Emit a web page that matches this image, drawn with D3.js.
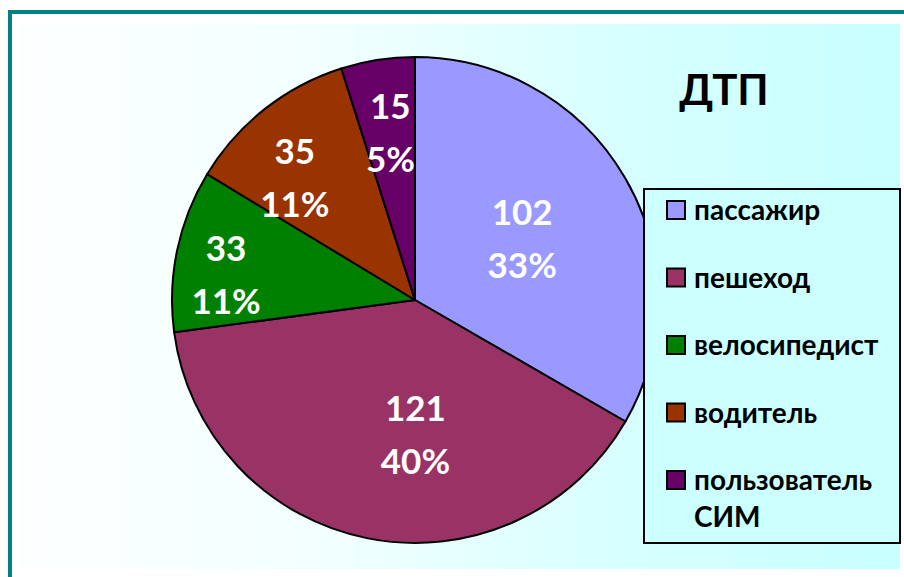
<!DOCTYPE html>
<html><head><meta charset="utf-8">
<script src="https://cdn.jsdelivr.net/npm/d3@7"></script>
<style>html,body{margin:0;padding:0;background:#fff;}svg{display:block;}</style>
</head><body>
<svg id="chart" width="904" height="577"></svg>
<script>
const title = "ДТП";
const categories = ["пассажир", "пешеход", "велосипедист", "водитель", "пользователь СИМ"];
const values = [102, 121, 33, 35, 15];
const percentLabels = ["33%", "40%", "11%", "11%", "5%"];
const colors = ["#9999ff", "#993366", "#008000", "#993300", "#660066"];

// layout (not data)
const legendLines = [["пассажир"], ["пешеход"], ["велосипедист"], ["водитель"], ["пользователь", "СИМ"]];
const labelNudge = [[2, 0], [24, 16], [-70, 0], [-45, -26], [-6, -46]];

const svg = d3.select("#chart");
const defs = svg.append("defs");
const grad = defs.append("linearGradient").attr("id", "bg").attr("x1", "0").attr("x2", "1").attr("y1", "0").attr("y2", "0");
grad.append("stop").attr("offset", "0").attr("stop-color", "#fdffff");
grad.append("stop").attr("offset", "0.35").attr("stop-color", "#f2ffff");
grad.append("stop").attr("offset", "0.7").attr("stop-color", "#d6ffff");
grad.append("stop").attr("offset", "1").attr("stop-color", "#c8ffff");

// frame
svg.append("rect").attr("x", 10).attr("y", 12).attr("width", 920).attr("height", 600)
  .attr("fill", "#fff").attr("stroke", "#008080").attr("stroke-width", 4);
// panel
svg.append("rect").attr("x", 20).attr("y", 24).attr("width", 880).attr("height", 545).attr("fill", "url(#bg)");

const cx = 415, cy = 300, r = 243;
const pie = d3.pie().sort(null).value(d => d)(values);
const arc = d3.arc().innerRadius(0).outerRadius(r);
const g = svg.append("g").attr("transform", `translate(${cx},${cy})`);
g.selectAll("path").data(pie).join("path")
  .attr("d", arc).attr("fill", (d, i) => colors[i])
  .attr("stroke", "#000").attr("stroke-width", 2).attr("stroke-linejoin", "round");

const labelArc = d3.arc().innerRadius(r * 0.5).outerRadius(r * 0.5);
const font = "Lato, 'Open Sans', sans-serif";
pie.forEach((d, i) => {
  const c = labelArc.centroid(d);
  const x = c[0] + labelNudge[i][0], y = c[1] + labelNudge[i][1];
  const t = g.append("text").attr("text-anchor", "middle")
    .attr("font-family", font).attr("font-weight", "bold").attr("font-size", 35).attr("fill", "#fff");
  t.append("tspan").attr("x", x).attr("y", y + 12 - 26.5).text(values[i]);
  t.append("tspan").attr("x", x).attr("y", y + 12 + 26.5).text(percentLabels[i]);
});

// title
svg.append("text").attr("x", 724).attr("y", 105).attr("text-anchor", "middle")
  .attr("font-family", font).attr("font-weight", "bold").attr("font-size", 42).attr("fill", "#000").text(title);

// legend
svg.append("rect").attr("x", 644).attr("y", 189).attr("width", 256).attr("height", 354)
  .attr("fill", "#ccffff").attr("stroke", "#000").attr("stroke-width", 2);
const rowY = d3.scalePoint().domain(categories).range([220, 490]);
categories.forEach((c, i) => {
  const b = rowY(c);
  svg.append("rect").attr("x", 667).attr("y", b - 19).attr("width", 18).attr("height", 18)
    .attr("fill", colors[i]).attr("stroke", "#000").attr("stroke-width", 2);
  const t = svg.append("text").attr("font-family", font).attr("font-weight", "bold")
    .attr("font-size", 28).attr("fill", "#000");
  legendLines[i].forEach((ln, j) => {
    t.append("tspan").attr("x", 694).attr("y", b + j * 36.7).text(ln);
  });
});
</script>
</body></html>
